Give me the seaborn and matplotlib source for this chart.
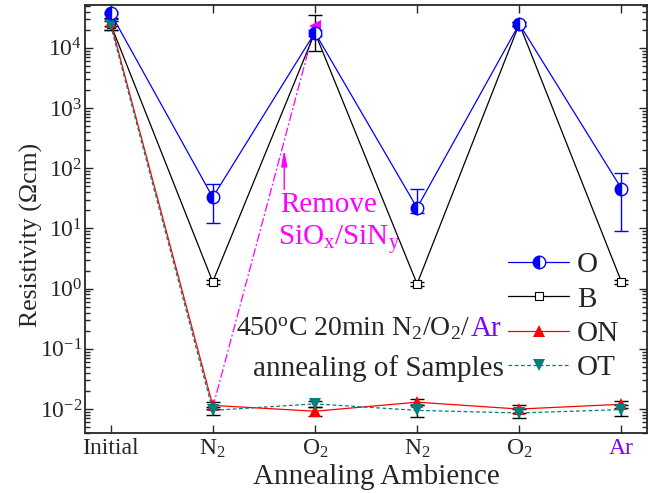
import numpy as np
import pandas as pd
import matplotlib
matplotlib.use("Agg")
import matplotlib.pyplot as plt
import seaborn as sns

# Annealing steps (x axis)
categories = ["Initial", "N$_2$", "O$_2$", "N$_2$", "O$_2$", "Ar"]

# Resistivity (Ohm cm) per sample type
res_O = [3.8e4, 33, 1.8e4, 22, 2.5e4, 46]
res_B = [2.5e4, 1.3, 1.8e4, 1.2, 2.5e4, 1.3]
res_ON = [2.7e4, 0.0115, 0.0092, 0.0130, 0.0100, 0.0120]
res_OT = [2.4e4, 0.0095, 0.0122, 0.0095, 0.0086, 0.0098]

# Asymmetric error bars (lower, upper)
err_O_lo = [2000, 20.5, 2000, 4, 2000, 37]
err_O_hi = [2000, 22, 2000, 24, 2000, 39]
err_B_lo = [5000, 0.1, 9000, 0.1, 2000, 0.1]
err_B_hi = [5000, 0.1, 17000, 0.1, 2000, 0.1]
err_ON = [4000, 0.0015, 0.0015, 0.0015, 0.0015, 0.0015]
err_OT = [4000, 0.0015, 0.0015, 0.0020, 0.0015, 0.0020]

# Sample after removing the SiOx/SiNy cap
remove_x = [1, 2]
remove_y = [0.0105, 2.3e4]

sns.set_theme(style="ticks")
plt.rcParams["font.family"] = ["Liberation Serif", "DejaVu Serif"]
plt.rcParams["mathtext.fontset"] = "custom"
plt.rcParams["mathtext.rm"] = "Liberation Serif"
plt.rcParams["mathtext.it"] = "Liberation Serif:italic"
plt.rcParams["mathtext.bf"] = "Liberation Serif:bold"

W, H = 654, 493
fig = plt.figure(figsize=(W / 100, H / 100), dpi=100)
ax = fig.add_axes([85 / W, 1 - 433 / H, (647 - 85) / W, (433 - 5) / H])

xpos = np.arange(len(categories))
df = pd.DataFrame({"x": xpos, "O": res_O, "B": res_B, "ON": res_ON, "OT": res_OT})

purple = "#8000ff"
teal = "#008080"
lw = 0.9

# Error bars first so markers sit on top
ax.errorbar(xpos, res_O, yerr=[err_O_lo, err_O_hi], fmt="none", ecolor="#0000ff",
            elinewidth=1, capsize=5, zorder=2)
ax.errorbar(xpos, res_B, yerr=[err_B_lo, err_B_hi], fmt="none", ecolor="black",
            elinewidth=1, capsize=5, zorder=2)
ax.errorbar(xpos, res_ON, yerr=err_ON, fmt="none", ecolor="black",
            elinewidth=1, capsize=5, zorder=2)
ax.errorbar(xpos, res_OT, yerr=err_OT, fmt="none", ecolor="black",
            elinewidth=1, capsize=5, zorder=2)

# Removed-cap sample: dash-dot line up to the O2 anneal
sns.lineplot(x=remove_x, y=remove_y, ax=ax, color="#ff00ff", lw=lw,
             linestyle=(0, (7, 2, 1.5, 2)), marker="<", markersize=9,
             markevery=[1], markeredgewidth=0, zorder=3, legend=False)

sns.lineplot(data=df, x="x", y="O", ax=ax, color="#0000ff", lw=lw, marker="o",
             markersize=9, fillstyle="left", markerfacecolor="#0000ff",
             markerfacecoloralt="white", markeredgecolor="#0000ff",
             markeredgewidth=1, label="O", zorder=5)
sns.lineplot(data=df, x="x", y="B", ax=ax, color="black", lw=lw, marker="s",
             markersize=5.5, markerfacecolor="white", markeredgecolor="black",
             markeredgewidth=0.8, label="B", zorder=4)
sns.lineplot(data=df, x="x", y="ON", ax=ax, color="red", lw=lw, marker="^",
             markersize=9, markerfacecolor="red", markeredgewidth=0,
             label="ON", zorder=4)
sns.lineplot(data=df, x="x", y="OT", ax=ax, color=teal, lw=lw, marker="v",
             markersize=9, markerfacecolor=teal, markeredgewidth=0,
             linestyle=(0, (3, 2)), label="OT", zorder=4)

ax.set_yscale("log")
ax.set_ylim(0.004, 5.16e4)
ax.set_xlim(-0.25, 5.25)
ax.set_xticks(xpos)
ax.set_xticklabels(categories, fontsize=17)
ax.get_xticklabels()[-1].set_color(purple)
ax.tick_params(axis="y", labelsize=17, pad=2)
ax.tick_params(which="both", direction="in", top=True, right=True, width=1)
ax.tick_params(which="major", length=6)
ax.tick_params(which="minor", length=3.5)
ax.tick_params(axis="x", which="minor", top=False, bottom=False)
for s in ax.spines.values():
    s.set_linewidth(1.3)

ax.set_xlabel("Annealing Ambience", fontsize=21)
ax.set_ylabel("Resistivity (\u03a9cm)", fontsize=18.5)
ax.xaxis.set_label_coords(0.518, -0.072)
ax.yaxis.set_label_coords(-0.074, 0.462)

# Arrow and note for the cap removal step
ax.annotate("", xy=(1.70, 225), xytext=(1.70, 40),
            arrowprops=dict(arrowstyle="-|>,head_length=0.8,head_width=0.15",
                            color="#ff00ff", lw=1))
ax.text(1.66, 25, "Remove", color="#ff00ff", fontsize=21, ha="left", va="center")
ax.text(1.64, 6.5, "SiO$_\\mathrm{x}$/SiN$_\\mathrm{y}$", color="#ff00ff",
        fontsize=21, ha="left", va="center")

# Annealing condition notes
ax.text(3.52, 0.21, "450$^\\mathrm{o}$C 20min N$_2$/O$_2$/", fontsize=20,
        ha="right", va="center")
ax.text(3.52, 0.21, "Ar", fontsize=21, color=purple, ha="left", va="center")
ax.text(2.62, 0.047, "annealing of Samples", fontsize=21, ha="center", va="center")

leg = ax.legend(loc="center left", bbox_to_anchor=(0.753, 0.272), frameon=False,
                fontsize=21, handlelength=2.1, handletextpad=0.25,
                labelspacing=0.27, borderpad=0, borderaxespad=0)

fig.savefig("out.png", dpi=100)
